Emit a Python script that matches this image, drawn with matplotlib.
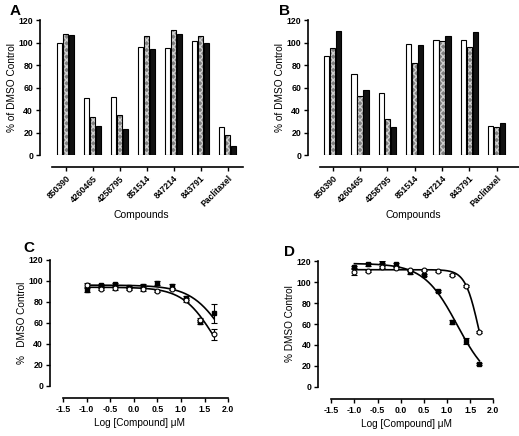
import matplotlib.pyplot as plt
import numpy as np

plt.rcParams['font.family'] = ['Liberation Sans', 'DejaVu Sans']
plt.rcParams['font.weight'] = 'bold'

compounds = ["850390", "4260465", "4258795", "851514", "847214", "843791", "Paclitaxel"]

# panel A bars (white, checkered, black)
a_white = [100, 51, 52, 96, 95, 101, 25]
a_gray = [108, 34, 36, 106, 111, 106, 18]
a_black = [107, 26, 23, 94, 108, 100, 8]

# panel B bars
b_white = [88, 72, 55, 99, 102, 102, 26]
b_gray = [95, 53, 32, 82, 101, 96, 25]
b_black = [110, 58, 25, 98, 106, 109, 29]

# dose response
log_conc = [-1.0, -0.7, -0.4, -0.1, 0.2, 0.5, 0.8, 1.1, 1.4, 1.7]
c_circle = [96, 92, 93, 92, 92, 90, 92, 82, 63, 49]
c_circle_err = [2, 1, 2, 1, 2, 1, 1, 2, 2, 5]
c_square = [91, 96, 97, 94, 95, 98, 95, 84, 61, 69]
c_square_err = [2, 1, 1, 1, 2, 2, 2, 2, 2, 9]
d_circle = [110, 111, 115, 114, 112, 112, 111, 107, 96, 52]
d_circle_err = [3, 1, 1, 1, 1, 1, 1, 1, 1, 1]
d_square = [115, 117, 119, 117, 110, 107, 92, 62, 44, 22]
d_square_err = [1, 1, 1, 1, 2, 1, 1, 2, 3, 1]

# fitted sigmoid params: top, bottom, logEC50, hill
c_circle_fit = (94, 0, 1.7, 1.3)
c_square_fit = (96, 0, 1.95, 1.2)
d_circle_fit = (112, 0, 1.68, 3.0)
d_square_fit = (118, 0, 1.22, 1.2)


def sigmoid(x, p):
    top, bottom, ec50, hill = p
    return bottom + (top - bottom) / (1 + 10 ** ((x - ec50) * hill))


def style_axes(ax, offset, lo, hi):
    # spine position first: it resets the ticks
    ax.spines['top'].set_visible(False)
    ax.spines['right'].set_visible(False)
    ax.spines['bottom'].set_position(('outward', offset))
    ax.spines['bottom'].set_bounds(lo, hi)
    ax.spines['bottom'].set_linewidth(1.2)
    ax.spines['left'].set_linewidth(1.2)
    ax.tick_params(labelsize=6.3, length=3, width=1, pad=2)


def bar_panel(ax, white, gray, black, xmin, xmax, line_start):
    x = np.arange(len(compounds))
    w = 0.2
    off = 0.22
    style_axes(ax, 8.5, line_start, xmax)
    ax.bar(x - off, white, w, color='white', edgecolor='black', linewidth=0.8)
    ax.bar(x, gray, w, color='#808080', edgecolor='#d0d0d0', hatch='xxxxx', linewidth=0)
    ax.bar(x, gray, w, fill=False, edgecolor='black', linewidth=0.8)
    ax.bar(x + off, black, w, color='#111111', edgecolor='black', linewidth=0.8)
    ax.set_xlim(xmin, xmax)
    ax.set_ylim(0, 120)
    ax.set_yticks(range(0, 121, 20))
    ax.set_xticks(x)
    ax.set_xticklabels(compounds, rotation=45, ha='right', rotation_mode='anchor',
                       fontsize=6.2)
    ax.set_ylabel("% of DMSO Control", fontsize=7.3, labelpad=1)
    ax.set_xlabel("Compounds", fontsize=7.5, labelpad=1)


def curve_panel(ax, circ, circ_err, sq, sq_err, circ_fit, sq_fit, ylabel):
    style_axes(ax, 9, -1.5, 2.0)
    xs = np.linspace(-1.0, 1.7, 200)
    ax.plot(xs, sigmoid(xs, sq_fit), color='black', lw=1.2)
    ax.plot(xs, sigmoid(xs, circ_fit), color='black', lw=1.2)
    ax.errorbar(log_conc, sq, yerr=sq_err, fmt='s', color='black', ms=3.3,
                capsize=2, elinewidth=0.8, capthick=0.8)
    ax.errorbar(log_conc, circ, yerr=circ_err, fmt='o', color='black', mfc='white',
                mew=0.8, ms=3.5, capsize=2, elinewidth=0.8, capthick=0.8)
    ax.set_xlim(-1.78, 2.03)
    ax.set_ylim(0, 120)
    ax.set_yticks(range(0, 121, 20))
    ax.set_xticks(np.arange(-1.5, 2.01, 0.5))
    ax.set_xticklabels(["-1.5", "-1.0", "-0.5", "0.0", "0.5", "1.0", "1.5", "2.0"])
    ax.set_ylabel(ylabel, fontsize=7.2, labelpad=1)
    ax.set_xlabel("Log [Compound] \u03bcM", fontsize=7.2, labelpad=3)


fig = plt.figure(figsize=(5.19, 4.36), dpi=100)

axA = fig.add_axes([0.0771, 0.6438, 0.391, 0.3103])
bar_panel(axA, a_white, a_gray, a_black, -0.95, 6.57, -0.51)
axB = fig.add_axes([0.5934, 0.6438, 0.4066, 0.3103])
bar_panel(axB, b_white, b_gray, b_black, -0.905, 6.82, -0.47)

axC = fig.add_axes([0.0963, 0.1154, 0.346, 0.2883])
curve_panel(axC, c_circle, c_circle_err, c_square, c_square_err,
            c_circle_fit, c_square_fit, "%   DMSO Control")
axD = fig.add_axes([0.6133, 0.113, 0.340, 0.2876])
curve_panel(axD, d_circle, d_circle_err, d_square, d_square_err,
            d_circle_fit, d_square_fit, "% DMSO Control")

fig.text(10 / 519, 1 - 11 / 436, "A", fontsize=11, fontweight='bold', va='center')
fig.text(279 / 519, 1 - 11 / 436, "B", fontsize=11, fontweight='bold', va='center')
fig.text(23 / 519, 1 - 248 / 436, "C", fontsize=11, fontweight='bold', va='center')
fig.text(284 / 519, 1 - 252 / 436, "D", fontsize=11, fontweight='bold', va='center')

fig.savefig("out.png", dpi=100)
